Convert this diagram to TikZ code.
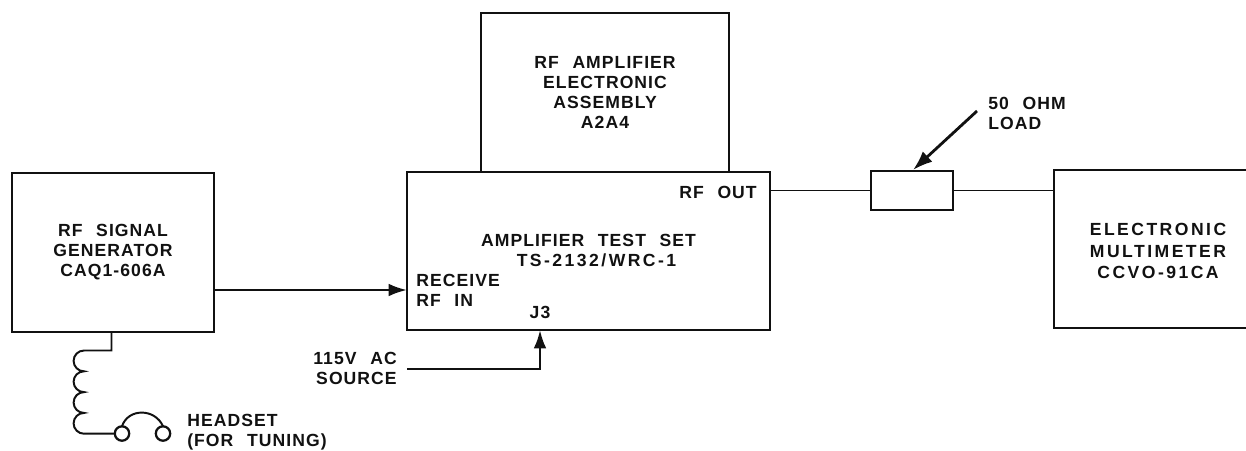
\documentclass[tikz,border=0pt]{standalone}
\usepackage{fontspec}
\setmainfont[LetterSpace=6,WordSpace=2.3]{Liberation Sans}
\usepackage{tikz}
\usetikzlibrary{arrows.meta,positioning,calc}
\definecolor{schemInk}{HTML}{111111}
\newcommand{\schemWide}{\addfontfeature{LetterSpace=14}}
\tikzset{
  schemText/.style={align=center,inner sep=0pt,text=schemInk,font=\fontsize{12.5}{14.2}\selectfont\bfseries},
  schemBox/.style={schemText,draw=schemInk,line width=1.6pt,outer sep=0pt},
  schemLabel/.style={schemText},
  schemWire/.style={draw=schemInk,line width=1.4pt},
  schemArrow/.style={schemWire,line width=1.8pt,-{Latex[length=13pt,width=9pt]}},
  schemEar/.style={draw=schemInk,line width=1.6pt,circle,minimum size=0.36cm,inner sep=0pt,outer sep=0pt}
}
\begin{document}
\begin{tikzpicture}[x=0.025cm,y=-0.025cm]
\useasboundingbox (0,0) rectangle (1246,450);
\node[schemBox,minimum width=5.05cm,minimum height=3.98cm] (sigGen) at (113,252.5)
  {RF SIGNAL\\GENERATOR\\CAQ1-606A};
\node[schemBox,minimum width=9.08cm,minimum height=3.95cm] (testSet) at (588.5,251)
  {AMPLIFIER TEST SET\\\hspace*{0.4cm}{\schemWide TS-2132/WRC-1}};
\node[schemBox,minimum width=6.2cm,minimum height=3.98cm] (ampAssy) at (605,92.5)
  {RF AMPLIFIER\\ELECTRONIC\\ASSEMBLY\\A2A4};
\node[schemBox,line width=1.4pt,minimum width=2.05cm,minimum height=0.98cm] (load) at (912,190.5) {};
\node[schemBox,minimum width=5.2cm,minimum height=3.95cm] (meter) at (1158,249) {};
\node[schemLabel,font=\fontsize{12.5}{14.2}\selectfont\bfseries\schemWide] (meterLabel) at (1158,251) {ELECTRONIC\\[1.2pt]MULTIMETER\\[1.2pt]CCVO-91CA};
\node[schemLabel,anchor=east] (rfOut) at (757,192) {RF OUT};
\node[schemLabel,align=left,anchor=west] (rfIn) at (416,290.5) {RECEIVE\\RF IN};
\node[schemLabel] (jThree) at (540,312) {J3};
\node[schemLabel,align=left,anchor=west] (loadLabel) at (988,113) {50 OHM\\LOAD};
\node[schemLabel,align=right,anchor=east] (acLabel) at (397,368) {115V AC\\SOURCE};
\node[schemLabel,align=left,anchor=west] (phones) at (187,432) {HEADSET\\(FOR TUNING)};
\coordinate (rfInPort) at (407,290);
\coordinate (acPort) at (540,330);
\coordinate (acStart) at (407,369);
\coordinate (rfOutPort) at (770,190.5);
\coordinate (loadTail) at (977,111);
\coordinate (loadTip) at (913,170);
\coordinate (coilTop) at (84,350.5);
\node[schemEar] (earL) at (122,433.5) {};
\node[schemEar] (earR) at (163,433.5) {};
\draw[schemWire] (rfOutPort) -- (load);
\draw[schemWire] (load) -- (load -| meter.west);
\draw[schemArrow] (sigGen.east |- rfInPort) -- (rfInPort);
\draw[schemArrow] (acStart) -| (acPort);
\draw[schemArrow,line width=2pt,-{Latex[length=14pt,width=10pt]}] (loadTail) -- (loadTip);
\draw[schemWire] (sigGen.south -| 111.5,0) |- (coilTop)
  arc[start angle=270,end angle=90,radius=10.4]
  arc[start angle=270,end angle=90,radius=10.4]
  arc[start angle=270,end angle=90,radius=10.4]
  arc[start angle=270,end angle=90,radius=10.4]
  -- (earL.west);
\draw[schemWire] (earL.north) .. controls (128,408) and (155,408) .. (earR.north);
\end{tikzpicture}
\end{document}
